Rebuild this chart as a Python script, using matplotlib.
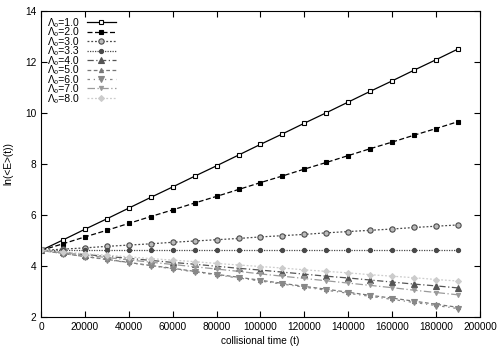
import matplotlib
matplotlib.use("Agg")
import matplotlib.pyplot as plt

plt.rcParams['font.family'] = ['Liberation Sans', 'DejaVu Sans']

# collisional time samples
t = [0, 10000, 20000, 30000, 40000, 50000, 60000, 70000, 80000, 90000,
     100000, 110000, 120000, 130000, 140000, 150000, 160000, 170000, 180000, 190000]

lam1 = [4.61, 5.02, 5.44, 5.85, 6.27, 6.69, 7.10, 7.52, 7.93, 8.35,
        8.77, 9.18, 9.60, 10.01, 10.43, 10.85, 11.26, 11.68, 12.09, 12.51]
lam2 = [4.61, 4.87, 5.14, 5.40, 5.67, 5.94, 6.20, 6.47, 6.73, 7.00,
        7.27, 7.53, 7.80, 8.06, 8.33, 8.60, 8.86, 9.13, 9.39, 9.66]
lam3 = [4.61, 4.66, 4.71, 4.77, 4.82, 4.87, 4.93, 4.98, 5.03, 5.08,
        5.14, 5.19, 5.24, 5.30, 5.35, 5.40, 5.45, 5.51, 5.56, 5.61]
lam33 = [4.61, 4.61, 4.61, 4.61, 4.61, 4.61, 4.61, 4.61, 4.61, 4.61,
         4.61, 4.61, 4.61, 4.61, 4.61, 4.61, 4.61, 4.61, 4.61, 4.61]
lam4 = [4.61, 4.53, 4.45, 4.38, 4.30, 4.22, 4.14, 4.07, 3.99, 3.91,
        3.84, 3.76, 3.68, 3.60, 3.53, 3.45, 3.37, 3.29, 3.22, 3.14]
lam5 = [4.61, 4.49, 4.37, 4.26, 4.14, 4.02, 3.91, 3.79, 3.67, 3.56,
        3.44, 3.32, 3.20, 3.09, 2.97, 2.85, 2.74, 2.62, 2.50, 2.38]
lam6 = [4.61, 4.49, 4.37, 4.25, 4.13, 4.01, 3.89, 3.77, 3.65, 3.53,
        3.41, 3.29, 3.17, 3.05, 2.93, 2.81, 2.69, 2.57, 2.45, 2.33]
lam7 = [4.61, 4.52, 4.43, 4.33, 4.24, 4.15, 4.06, 3.97, 3.88, 3.79,
        3.69, 3.60, 3.51, 3.42, 3.33, 3.24, 3.15, 3.05, 2.96, 2.87]
lam8 = [4.61, 4.55, 4.48, 4.42, 4.36, 4.29, 4.23, 4.17, 4.10, 4.04,
        3.98, 3.92, 3.85, 3.79, 3.73, 3.66, 3.60, 3.54, 3.47, 3.41]

labels = ['1.0', '2.0', '3.0', '3.3', '4.0', '5.0', '6.0', '7.0', '8.0']
series = [lam1, lam2, lam3, lam33, lam4, lam5, lam6, lam7, lam8]

styles = [
    dict(color='black', ls='-', marker='s', mfc='white', ms=3.5),
    dict(color='black', ls=(0, (4, 2)), marker='s', mfc='black', ms=3),
    dict(color='#4a4a4a', ls=(0, (1.5, 1.5)), marker='o', mfc='#bbbbbb', ms=3.8),
    dict(color='#4a4a4a', ls=(0, (1, 1)), marker='o', mfc='#4a4a4a', ms=3),
    dict(color='#555555', ls=(0, (5, 2, 1, 2)), marker='^', mfc='#555555', ms=3.8),
    dict(color='#777777', ls=(0, (3, 2)), marker='^', mfc='#777777', ms=3),
    dict(color='#888888', ls=(0, (2, 3, 1, 3)), marker='v', mfc='#888888', ms=4),
    dict(color='#9a9a9a', ls=(0, (6, 2, 1, 2)), marker='v', mfc='#9a9a9a', ms=3),
    dict(color='#cccccc', ls=(0, (1.5, 1.5)), marker='D', mfc='#cccccc', ms=3),
]

fig = plt.figure(figsize=(4.98, 3.49), dpi=100)
ax = fig.add_axes([0.0823, 0.0917, 0.8815, 0.8768])

for lab, ys, st in zip(labels, series, styles):
    ax.plot(t, ys, lw=0.9, mew=0.8, mec=st['color'],
            label='\u039b\u2080=' + lab, **st)

ax.set_xlim(0, 200000)
ax.set_ylim(2, 14)
ax.set_xticks(range(0, 200001, 20000))
ax.set_yticks(range(2, 15, 2))
ax.tick_params(direction='in', top=True, right=True, labelsize=7.3, length=4, width=0.8)
ax.set_xlabel('collisional time (t)', fontsize=7.3, labelpad=3)
ax.set_ylabel('ln(<E>(t))', fontsize=7.3, labelpad=8)

leg = ax.legend(loc='upper left', markerfirst=False, frameon=False, fontsize=7.5,
                handlelength=2.8, labelspacing=-0.05, borderaxespad=0.25,
                handletextpad=0.7)

fig.savefig('out.png', dpi=100)
